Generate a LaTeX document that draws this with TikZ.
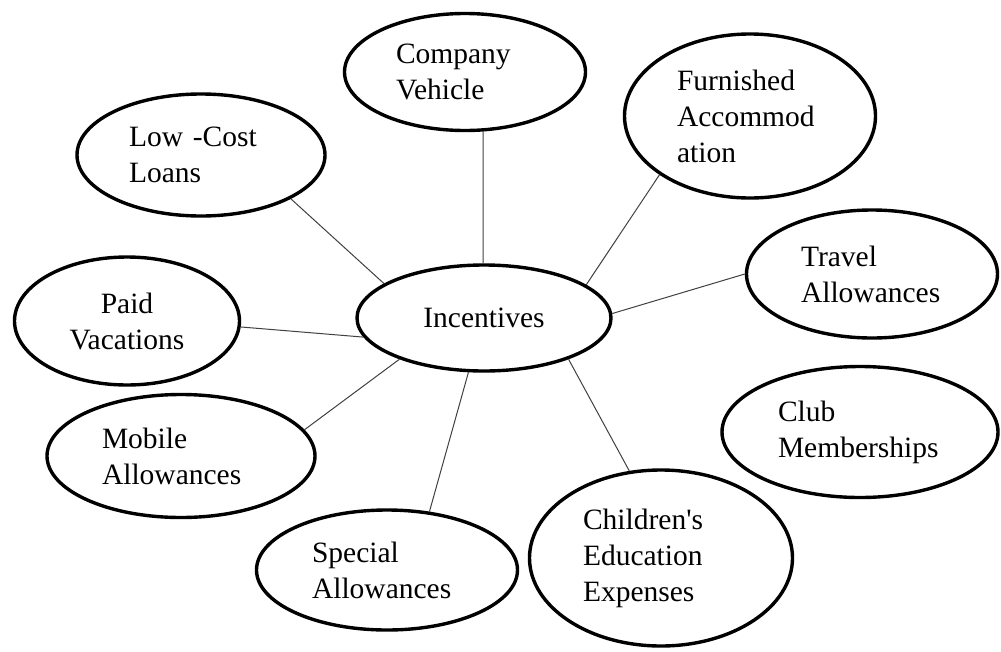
\documentclass[tikz,border=0pt]{standalone}
\usepackage{fontspec}
\setmainfont{Liberation Serif}
\usetikzlibrary{shapes.geometric}
\hyphenpenalty=10000
\tikzset{
  bubble/.style={ellipse, draw, line width=3.4pt, inner sep=0pt, align=left,
    font=\fontsize{29.5}{36}\selectfont},
  spoke/.style={line width=1pt, black!75}
}
\begin{document}
\begin{tikzpicture}[x=1pt,y=-1pt]
    \useasboundingbox (0,0) rectangle (1001,651);

    \node[bubble, minimum width=241, minimum height=117, text width=138] (cv) at (465,72) {Company\\Vehicle};
    \node[bubble, minimum width=251, minimum height=164, text width=146] (fa) at (750,116) {Furnished\\Accommod\\ation};
    \node[bubble, minimum width=248, minimum height=122, text width=144] (lcl) at (201,155) {Low -Cost\\Loans};
    \node[bubble, minimum width=251, minimum height=128, text width=142] (ta) at (872,274) {Travel\\Allowances};
    \node[bubble, minimum width=225, minimum height=128, align=center] (pv) at (127,321) {Paid\\Vacations};
    \node[bubble, minimum width=254, minimum height=106, align=center] (inc) at (484,318) {Incentives};
    \node[bubble, minimum width=276, minimum height=131, text width=164] (cm) at (860,432) {Club\\Memberships};
    \node[bubble, minimum width=268, minimum height=123, text width=158] (ma) at (181,456) {Mobile\\Allowances};
    \node[bubble, minimum width=261, minimum height=120, text width=150] (sa) at (387,570) {Special\\Allowances};
    \node[bubble, minimum width=263, minimum height=176, text width=156] (ce) at (661,558) {Children\textquotesingle s\\Education\\Expenses};

    \draw[spoke] (cv.-73.6) -- (inc.91); \draw[spoke] (lcl.-26.6) -- (inc.161.9);
    \draw[spoke] (fa.213.7) -- (inc.18.6); \draw[spoke] (ta.180) -- (inc.2.7);
    \draw[spoke] (pv.-3.5) -- (inc.189.8); \draw[spoke] (ma.12.5) -- (inc.206.3);
    \draw[spoke] (sa.54) -- (inc.254.3); \draw[spoke] (ce.110.7) -- (inc.-26.8);
  \end{tikzpicture}
\end{document}
